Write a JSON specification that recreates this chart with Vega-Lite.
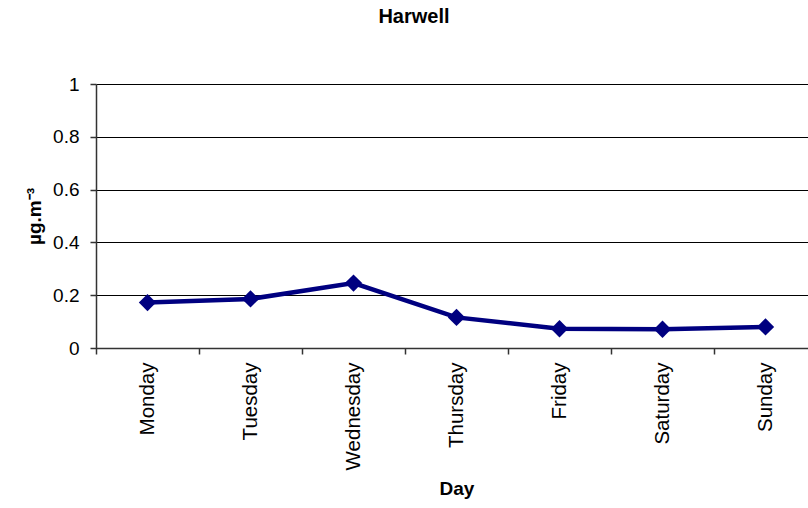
{
  "$schema": "https://vega.github.io/schema/vega-lite/v6.json",
  "autosize": {"type": "none"},
  "padding": {"left": 96, "top": 84, "right": 0, "bottom": 160},
  "width": 712,
  "height": 264,
  "background": "white",
  "title": {"text": "Harwell", "font": "Liberation Sans", "fontSize": 20, "fontWeight": "bold", "color": "#000", "offset": 48, "dx": -38},
  "data": {"values": [
    {"day": "Monday", "value": 0.172},
    {"day": "Tuesday", "value": 0.186},
    {"day": "Wednesday", "value": 0.246},
    {"day": "Thursday", "value": 0.116},
    {"day": "Friday", "value": 0.073},
    {"day": "Saturday", "value": 0.071},
    {"day": "Sunday", "value": 0.080}
  ]},
  "config": {
    "view": {"stroke": null},
    "axis": {"labelFont": "Liberation Sans", "titleFont": "Liberation Sans", "labelFontSize": 19, "titleFontSize": 19, "labelColor": "#000", "titleColor": "#000", "domainColor": "#333", "tickColor": "#333", "domainWidth": 1.5, "tickWidth": 1.5, "tickSize": 6}
  },
  "layer": [
    {
      "mark": {"type": "line", "color": "#000080", "strokeWidth": 4.5},
      "encoding": {
        "x": {"field": "day", "type": "nominal", "sort": null, "scale": {"range": [0, 721], "paddingInner": 0, "paddingOuter": 0},
          "axis": {"title": "Day", "labelAngle": -90, "labelFontSize": 20.5, "tickBand": "extent", "labelPadding": 8, "titlePadding": 10, "grid": false}},
        "y": {"field": "value", "type": "quantitative", "scale": {"domain": [0, 1]},
          "axis": {"title": "µg.m⁻³", "values": [0, 0.2, 0.4, 0.6, 0.8, 1], "format": ".1~f", "grid": true, "gridColor": "#000", "gridWidth": 1, "labelPadding": 11, "titlePadding": 8}}
      }
    },
    {
      "mark": {"type": "point", "shape": "diamond", "filled": true, "color": "#000080", "size": 300, "opacity": 1},
      "encoding": {
        "x": {"field": "day", "type": "nominal", "sort": null},
        "y": {"field": "value", "type": "quantitative"}
      }
    }
  ]
}
